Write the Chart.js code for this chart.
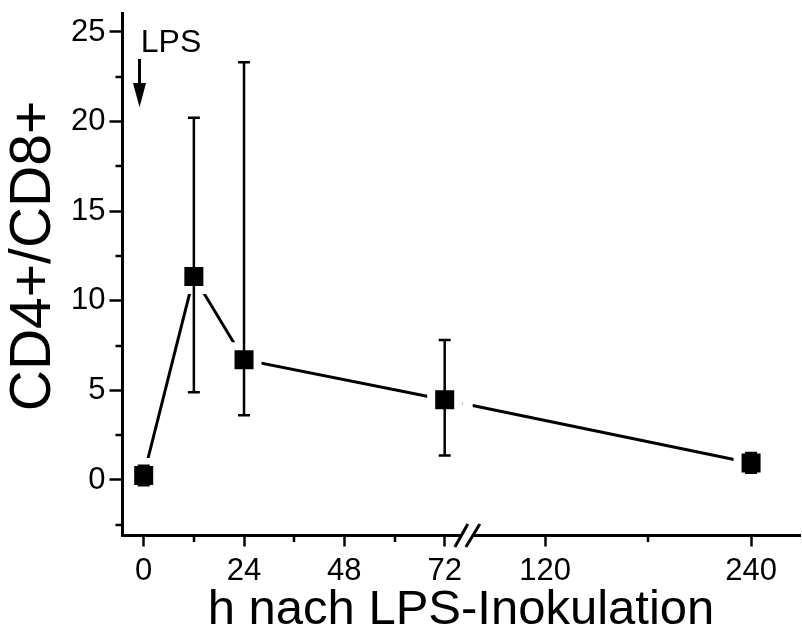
<!DOCTYPE html>
<html><head><meta charset="utf-8">
<script src="https://cdn.jsdelivr.net/npm/chart.js@4.4.1/dist/chart.umd.min.js"></script>
<style>html,body{margin:0;padding:0;background:#fff;}#wrap{width:802px;height:643px;position:relative;}</style>
</head><body><div id="wrap"><canvas id="c"></canvas></div>
<script>
// ---- data ----
const hours   = [0, 12, 24, 72, 240];
const ratio   = [0.25, 11.35, 6.71, 4.48, 0.95];
const errLow  = [-0.30, 4.89, 3.61, 1.36, 0.40];
const errHigh = [0.80, 20.22, 23.31, 7.81, 1.50];
const xMajorTicks = [0, 24, 48, 72, 120, 240];
const xMinorTicks = [12, 36, 60, 180];
const yMajorTicks = [0, 5, 10, 15, 20, 25];
const yMinorTicks = [-2.5, 2.5, 7.5, 12.5, 17.5, 22.5];
const annotationLabel = 'LPS';
const xTitle = 'h nach LPS-Inokulation';
const yTitle = 'CD4+/CD8+';

// ---- broken x axis: 0..72 h linear, then compressed segment ----
const BREAK_AT = 72, SEG2_ANCHOR = 120, SEG2_ANCHOR_U = 96.0, SEG2_SCALE = 0.4107;
function toU(h){ return h <= BREAK_AT ? h : SEG2_ANCHOR_U + (h - SEG2_ANCHOR) * SEG2_SCALE; }
function fromU(u){ return u <= BREAK_AT ? u : SEG2_ANCHOR + (u - SEG2_ANCHOR_U) / SEG2_SCALE; }
class BrokenLinearScale extends Chart.LinearScale {
  getPixelForU(u){ const u0 = toU(this.min), u1 = toU(this.max); return this.getPixelForDecimal((u - u0) / (u1 - u0)); }
  getPixelForValue(v){ if (v === null || v === undefined || isNaN(v)) return NaN; return this.getPixelForU(toU(v)); }
  getValueForPixel(p){ const u0 = toU(this.min), u1 = toU(this.max); return fromU(u0 + this.getDecimalForPixel(p) * (u1 - u0)); }
}
BrokenLinearScale.id = 'brokenLinear';
BrokenLinearScale.defaults = Chart.LinearScale.defaults;
Chart.register(BrokenLinearScale);

const FONT = "'Liberation Sans', Arial, Helvetica, sans-serif";

const decor = {
  id: 'decor',
  afterDatasetsDraw(chart){
    const ctx = chart.ctx, xs = chart.scales.x, ys = chart.scales.y, ca = chart.chartArea;
    ctx.save();
    // gap of the connecting line at the axis break
    const g0 = xs.getPixelForU(76.2), g1 = xs.getPixelForU(78.7);
    ctx.fillStyle = '#fff';
    ctx.fillRect(g0, ca.top, g1 - g0, ca.bottom - ca.top - 3);
    // error bars
    ctx.strokeStyle = '#000'; ctx.lineWidth = 2.5;
    hours.forEach((h, i) => {
      const x = xs.getPixelForValue(h);
      const y1 = ys.getPixelForValue(errLow[i]), y2 = ys.getPixelForValue(errHigh[i]);
      ctx.beginPath();
      ctx.moveTo(x, y1); ctx.lineTo(x, y2);
      ctx.moveTo(x - 6, y1); ctx.lineTo(x + 6, y1);
      ctx.moveTo(x - 6, y2); ctx.lineTo(x + 6, y2);
      ctx.stroke();
    });
    ctx.restore();
  },
  afterDraw(chart){
    const ctx = chart.ctx, xs = chart.scales.x, ys = chart.scales.y, ca = chart.chartArea;
    ctx.save();
    ctx.strokeStyle = '#000'; ctx.lineWidth = 2.5;
    // minor ticks
    ctx.beginPath();
    xMinorTicks.forEach(v => { const p = Math.round(xs.getPixelForValue(v)); ctx.moveTo(p, ca.bottom); ctx.lineTo(p, ca.bottom + 7); });
    yMinorTicks.forEach(v => { const p = Math.round(ys.getPixelForValue(v)); ctx.moveTo(ca.left, p); ctx.lineTo(ca.left - 6.5, p); });
    ctx.stroke();
    // axis break marks
    const cx = xs.getPixelForU(77.3), by = ca.bottom;
    ctx.fillStyle = '#fff';
    ctx.beginPath();
    ctx.moveTo(cx - 12, by + 12); ctx.lineTo(cx + 1, by - 11); ctx.lineTo(cx + 13, by - 11); ctx.lineTo(cx - 1, by + 12);
    ctx.closePath(); ctx.fill();
    ctx.lineWidth = 3;
    ctx.beginPath();
    ctx.moveTo(cx - 12, by + 12); ctx.lineTo(cx + 1, by - 11);
    ctx.moveTo(cx - 1, by + 12); ctx.lineTo(cx + 13, by - 11);
    ctx.stroke();
    // y axis title (placed to match the reference, slightly above centre)
    ctx.fillStyle = '#000';
    ctx.save();
    ctx.translate(34, ys.getPixelForValue(12.5));
    ctx.rotate(-Math.PI / 2);
    ctx.font = '57px ' + FONT;
    ctx.textAlign = 'center'; ctx.textBaseline = 'middle';
    ctx.fillText(yTitle, 0, 0);
    ctx.restore();
    // LPS annotation with arrow
    ctx.font = '32px ' + FONT;
    ctx.textAlign = 'left'; ctx.textBaseline = 'alphabetic';
    ctx.fillText(annotationLabel, xs.getPixelForValue(-0.7), ys.getPixelForValue(23.87));
    const ax = xs.getPixelForValue(-1);
    const yT = ys.getPixelForValue(23.5), yH = ys.getPixelForValue(22.15), yTip = ys.getPixelForValue(20.8);
    ctx.lineWidth = 3;
    ctx.beginPath(); ctx.moveTo(ax, yT); ctx.lineTo(ax, yH + 2); ctx.stroke();
    ctx.beginPath(); ctx.moveTo(ax - 6.5, yH); ctx.lineTo(ax + 6.5, yH); ctx.lineTo(ax, yTip); ctx.closePath(); ctx.fill();
    ctx.restore();
  }
};

new Chart(document.getElementById('c'), {
  type: 'line',
  data: {
    datasets: [{
      data: hours.map((h, i) => ({ x: h, y: ratio[i] })),
      borderColor: '#000', borderWidth: 3, tension: 0,
      pointStyle: 'rect', pointRadius: 19.1, pointBackgroundColor: '#000',
      pointBorderColor: '#fff', pointBorderWidth: 8,
      clip: false
    }]
  },
  options: {
    responsive: true, maintainAspectRatio: false, animation: false, devicePixelRatio: 1,
    layout: { autoPadding: false, padding: { top: 13, right: 2, left: 0, bottom: 0 } },
    plugins: { legend: { display: false }, tooltip: { enabled: false } },
    scales: {
      x: {
        type: 'brokenLinear', min: -5.19, max: 268.5,
        afterFit: s => { s.height = 108; s.paddingLeft = 0; s.paddingRight = 0; },
        afterBuildTicks: s => { s.ticks = xMajorTicks.map(v => ({ value: v })); },
        grid: { drawOnChartArea: false, drawTicks: true, tickLength: 11.5, tickWidth: 2.5, tickColor: '#000' },
        border: { display: true, width: 3, color: '#000' },
        ticks: { color: '#000', font: { family: FONT, size: 31 }, padding: 6, maxRotation: 0, autoSkip: false,
                 callback: v => String(v) },
        title: { display: true, text: xTitle, color: '#000', font: { family: FONT, size: 49 }, padding: { top: 0, bottom: 3 } }
      },
      y: {
        type: 'linear', min: -3.07, max: 26.06,
        afterFit: s => { s.width = 122; s.paddingTop = 0; s.paddingBottom = 0; },
        afterBuildTicks: s => { s.ticks = yMajorTicks.map(v => ({ value: v })); },
        grid: { drawOnChartArea: false, drawTicks: true, tickLength: 12.5, tickWidth: 2.5, tickColor: '#000' },
        border: { display: true, width: 3, color: '#000' },
        ticks: { color: '#000', font: { family: FONT, size: 31 }, padding: 4, callback: v => String(v) },
        title: { display: false, text: yTitle }
      }
    }
  },
  plugins: [decor]
});
</script></body></html>
